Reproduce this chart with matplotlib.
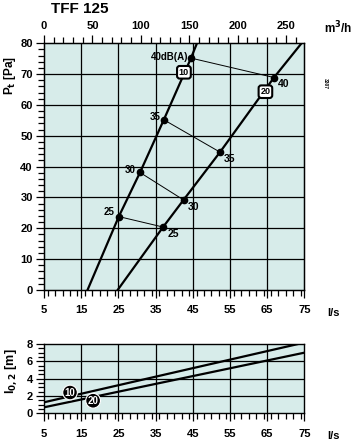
import numpy as np
import matplotlib.pyplot as plt
from matplotlib.ticker import MultipleLocator

plt.rcParams['font.family'] = ['Liberation Sans', 'DejaVu Sans']
plt.rcParams['font.weight'] = 'bold'
plt.rcParams['mathtext.default'] = 'bf'

BG = '#d7ecea'

# pressure curves (l/s vs Pa), two diffuser settings
q_10 = [16.7, 25.1, 30.8, 37.2, 44.5, 46.1]
p_10 = [0, 23.8, 38.1, 55.2, 75.2, 80]
q_20 = [24.8, 37.0, 42.5, 52.3, 66.8, 74.2]
p_20 = [0, 20.4, 29.2, 44.7, 68.9, 80]

# sound level points on each curve
db_labels = ['25', '30', '35', '40']
db_q10 = [25.1, 30.8, 37.2, 44.5]
db_p10 = [23.8, 38.1, 55.2, 75.2]
db_q20 = [37.0, 42.5, 52.3, 66.8]
db_p20 = [20.4, 29.2, 44.7, 68.9]

# throw length l0.2
l_q10 = [5, 73.3]
l_10 = [1.27, 8.0]
l_q20 = [5, 75]
l_20 = [0.69, 7.0]

fig = plt.figure(figsize=(3.53, 4.4), dpi=100)
ax = fig.add_axes([0.1246, 0.341, 0.738, 0.5606])
ax2 = fig.add_axes([0.1246, 0.0607, 0.738, 0.1575])

for a in (ax, ax2):
    a.set_facecolor(BG)
    a.set_xlim(5, 75)
    a.set_xticks(range(5, 76, 10))
    a.xaxis.set_minor_locator(MultipleLocator(2))
    a.tick_params(which='both', direction='out', color='black', width=0.9,
                  labelsize=8, pad=2)
    a.tick_params(which='major', length=6)
    a.tick_params(which='minor', length=4)
    a.tick_params(axis='x', pad=5)
    for s in a.spines.values():
        s.set_linewidth(1.0)
    for x in range(15, 70, 10):
        a.axvline(x, color='black', lw=0.9, zorder=1)

ax.set_ylim(0, 80)
ax.set_yticks(range(0, 81, 10))
ax.yaxis.set_minor_locator(MultipleLocator(2))
for y in range(10, 80, 10):
    ax.axhline(y, color='black', lw=0.9, zorder=1)

ax.plot(q_10, p_10, color='black', lw=1.6, zorder=3, clip_on=True)
ax.plot(q_20, p_20, color='black', lw=1.6, zorder=3, clip_on=True)
for i in range(len(db_labels)):
    ax.plot([db_q10[i], db_q20[i]], [db_p10[i], db_p20[i]], color='black', lw=0.7, zorder=3)
ax.plot(db_q10, db_p10, 'o', color='black', ms=4.5, zorder=4)
ax.plot(db_q20, db_p20, 'o', color='black', ms=4.5, zorder=4)

left_txt = ['25', '30', '35', '40dB(A)']
left_off = [(-3, 3), (-3, 2), (-2, 2), (-2, 1)]
for i, t in enumerate(left_txt):
    ax.annotate(t, (db_q10[i], db_p10[i]), xytext=left_off[i], textcoords='offset points',
                ha='right', va='center', fontsize=7, zorder=5)
for i, t in enumerate(db_labels):
    ax.annotate(t, (db_q20[i], db_p20[i]), xytext=(3, -5), textcoords='offset points',
                ha='left', va='center', fontsize=7.5, zorder=5)

box = dict(boxstyle='round,pad=0.2,rounding_size=0.3', fc='white', ec='black', lw=1.5)
ax.text(42.6, 70.6, '10', ha='center', va='center', fontsize=6.5, bbox=box, zorder=6)
ax.text(64.5, 64.3, '20', ha='center', va='center', fontsize=6.5, bbox=box, zorder=6)

top = ax.twiny()
top.set_xlim(0, 269)
top.set_xticks(range(0, 251, 50))
top.xaxis.set_minor_locator(MultipleLocator(10))
top.tick_params(which='both', direction='out', width=0.9, labelsize=8, pad=3)
top.tick_params(which='major', length=6)
top.tick_params(which='minor', length=4)

# lower chart
ax2.set_ylim(0, 8)
ax2.set_yticks(range(0, 9, 2))
ax2.yaxis.set_minor_locator(MultipleLocator(0.5))
for y in (2, 4, 6):
    ax2.axhline(y, color='black', lw=0.9, zorder=1)
ax2.plot(l_q10, l_10, color='black', lw=1.6, zorder=3)
ax2.plot(l_q20, l_20, color='black', lw=1.6, zorder=3)
cbox = dict(boxstyle='circle,pad=0.2', fc='black', ec='white', lw=0.8)
ax2.text(12.0, 2.4, '10', color='white', ha='center', va='center', fontsize=7, bbox=cbox, zorder=6)
ax2.text(18.2, 1.45, '20', color='white', ha='center', va='center', fontsize=7, bbox=cbox, zorder=6)

fig.text(80 / 353, 1 - 9 / 440, 'TFF 125', fontsize=11, ha='center', va='center')
fig.text(10 / 353, 1 - 75 / 440, 'P$_{t}$ [Pa]', rotation=90, fontsize=8.5, ha='center', va='center')
fig.text(11 / 353, 1 - 371 / 440, 'l$_{0,2}$ [m]', rotation=90, fontsize=9, ha='center', va='center')
fig.text(338 / 353, 1 - 28 / 440, 'm$^3$/h', fontsize=8.5, ha='center', va='center')
fig.text(334 / 353, 1 - 313 / 440, 'l/s', fontsize=8, ha='center', va='center')
fig.text(334 / 353, 1 - 436 / 440, 'l/s', fontsize=8, ha='center', va='center')
fig.text(325 / 353, 1 - 83 / 440, '3307', rotation=270, fontsize=3.5, ha='center', va='center')

fig.savefig('out.png', dpi=100)
